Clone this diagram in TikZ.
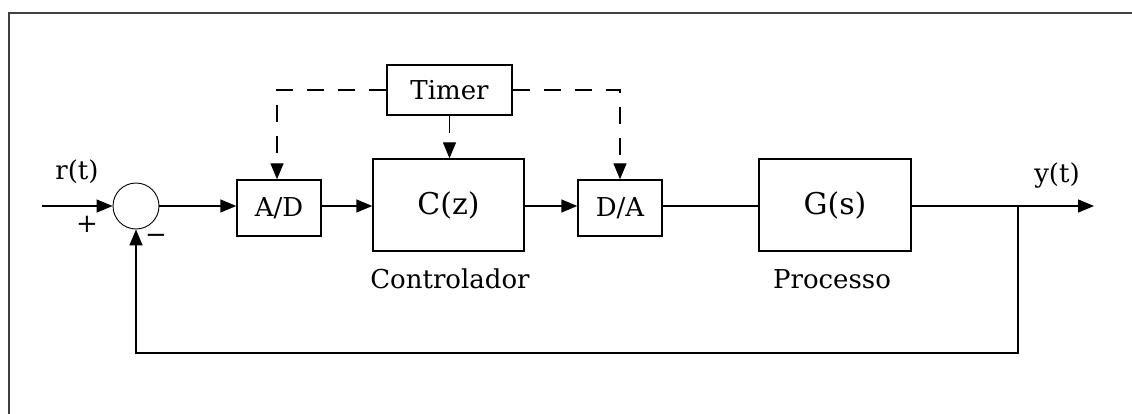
\documentclass[tikz,border=0pt]{standalone}
\usepackage{fontspec}
\setmainfont{DejaVu Serif}
\usetikzlibrary{arrows.meta}
\newcommand\lblfont{\fontsize{26}{30}\selectfont}
\newcommand\bigfont{\fontsize{30}{34}\selectfont}
\begin{document}
\begin{tikzpicture}[x=1pt,y=-1pt,
  wire/.style={line width=1.4pt},
  sig/.style={wire,-{Triangle[length=16pt,width=13pt]}},
  clk/.style={wire,dash pattern=on 17pt off 14pt},
  clkarrow/.style={clk,-{Triangle[length=16pt,width=13pt]}},
  smallbox/.style={draw,line width=1.4pt,inner sep=0pt,minimum width=84pt,minimum height=56pt,font=\lblfont},
  bigbox/.style={draw,line width=1.4pt,inner sep=0pt,minimum width=152pt,minimum height=92pt,font=\bigfont},
  lbl/.style={inner sep=0pt,font=\lblfont}]
\useasboundingbox (0,0) rectangle (1132,414);
% frame
\draw[line width=2pt,draw=black!75] (9,414) -- (9,13) -- (1132,13);
% blocks
\node[draw,circle,line width=0.9pt,minimum size=46pt,inner sep=0pt] (sum) at (136,206) {};
\node[smallbox] (ad) at (279,208) {A/D};
\node[bigbox,minimum width=151pt] (ctrl) at (448.5,205) {C(z)};
\node[draw,line width=1.4pt,inner sep=0pt,minimum width=125pt,minimum height=50pt,font=\lblfont] (timer) at (449.5,90) {Timer};
\node[smallbox] (da) at (620,208) {D/A};
\node[bigbox] (plant) at (835,205) {G(s)};
% labels
\node[lbl] (rlab) at (77,172) {r(t)};
\node[lbl] (ylab) at (1057,176) {y(t)};
\node[lbl] (plus) at (87,224) {+};
\node[lbl] (minus) at (156,239) {−};
\node[lbl] (ctrllab) at (450,279) {Controlador};
\node[lbl] (plantlab) at (832,279) {Processo};
% signal path
\coordinate (in) at (42,206);
\coordinate (out) at (1094,206);
\coordinate (branch) at (1018,206);
\coordinate (fbr) at (1018,353);
\coordinate (fbl) at (136,353);
\draw[sig] (in) -- (sum.west);
\draw[sig] (sum.east) -- (ad.west |- sum.east);
\draw[sig] (ad.east |- sum.east) -- (ctrl.west |- sum.east);
\draw[sig] (ctrl.east |- sum.east) -- (da.west |- sum.east);
\draw[wire] (da.east |- sum.east) -- (plant.west |- sum.east);
\draw[sig] (plant.east |- sum.east) -- (out);
\draw[sig] (branch) -- (fbr) -- (fbl) -- (sum.south);
% sampling clock
\coordinate (tl) at (277,90);
\coordinate (tr) at (620,90);
\draw[clkarrow] (timer.west) -- (tl) -- (tl |- ad.north);
\draw[clkarrow] (timer.east) -- (tr) -- (da.north);
\draw[clkarrow] (timer.south) -- (timer.south |- ctrl.north);
\end{tikzpicture}
\end{document}
